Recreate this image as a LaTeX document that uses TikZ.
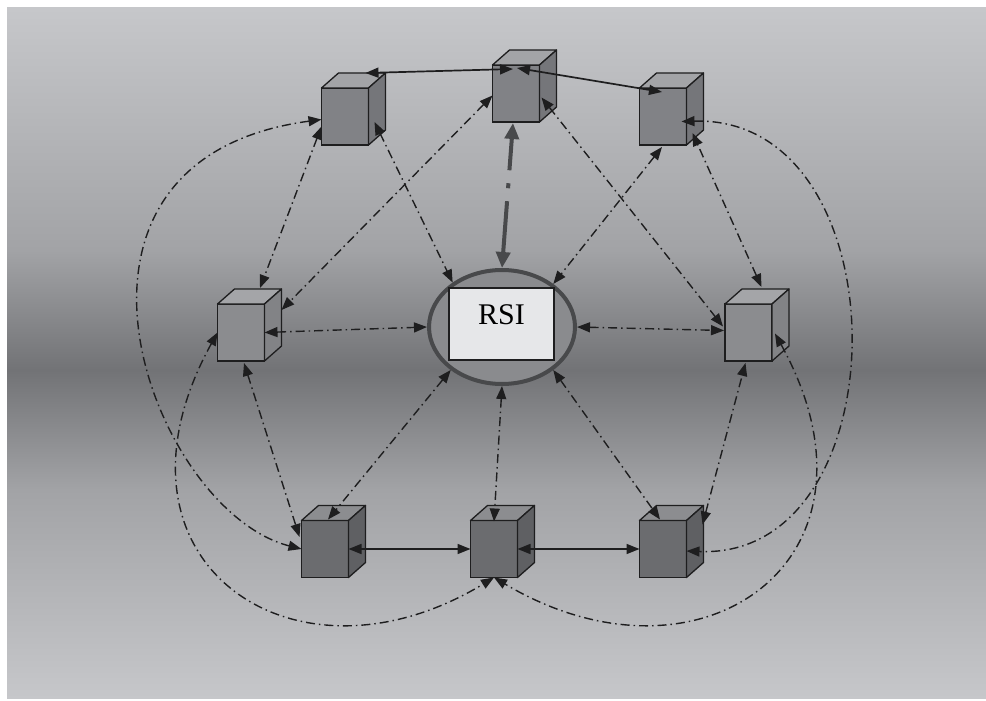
\documentclass[tikz,border=0pt]{standalone}
\usepackage{fontspec}
\setmainfont{Liberation Serif}
\usepackage{xcolor}
\usetikzlibrary{arrows.meta,shapes.geometric,calc}

\definecolor{ink}{HTML}{1E1E1F}
\definecolor{bglight}{HTML}{C6C7CA}
\definecolor{bgsoft}{HTML}{A2A3A6}
\definecolor{bgdark}{HTML}{727376}
\definecolor{hubgray}{HTML}{8A8B8E}
\definecolor{hubline}{HTML}{48494B}
\definecolor{boxfill}{HTML}{E6E7E9}
\definecolor{faceA}{HTML}{818286}
\definecolor{lidA}{HTML}{A3A4A7}
\definecolor{flankA}{HTML}{75767A}
\definecolor{faceB}{HTML}{8B8C8F}
\definecolor{lidB}{HTML}{A4A5A8}
\definecolor{flankB}{HTML}{828386}
\definecolor{faceC}{HTML}{6B6C6F}
\definecolor{lidC}{HTML}{8C8D90}
\definecolor{flankC}{HTML}{5F6063}

\begin{document}
\begin{tikzpicture}[x=1pt,y=-1pt,
  every node/.style={inner sep=0pt,outer sep=0pt},
  cube/.style={draw=ink,line width=1.3pt,minimum width=47pt,minimum height=57pt},
  hub/.style={shape=ellipse,draw=hubline,fill=hubgray,line width=4pt,outer sep=2pt,minimum width=146pt,minimum height=114pt},
  twohead/.style={{Triangle[length=13pt,width=10pt]}-{Triangle[length=13pt,width=10pt]}},
  link/.style={draw=ink,line width=1.4pt,dash pattern=on 9pt off 4pt on 1.5pt off 4pt,twohead},
  solidlink/.style={draw=ink,line width=1.7pt,twohead},
  mainlink/.style={draw=hubline,line width=4pt,dash pattern=on 52pt off 13pt on 5pt off 13pt,{Triangle[length=16pt,width=14pt]}-{Triangle[length=16pt,width=14pt]}}]
  \fill[white] (0,0) rectangle (986,698);
  \shade[top color=bglight,bottom color=bgsoft] (7,8) rectangle (986,250);
  \shade[top color=bgsoft,bottom color=bgdark] (7,250) rectangle (986,370);
  \shade[top color=bgdark,bottom color=bgsoft] (7,370) rectangle (986,490);
  \shade[top color=bgsoft,bottom color=bglight] (7,490) rectangle (986,698);

  \node[hub] (ring) at (502,327) {};
  \node[draw=ink,line width=1.2pt,fill=boxfill,minimum width=105pt,minimum height=72pt,text depth=18pt,font=\fontsize{30}{30}\selectfont] (rsi) at (501.5,324) {RSI};

  \node[cube,fill=faceA] (tl) at (345,116.5) {};
  \node[cube,fill=faceA] (tm) at (516,93.5) {};
  \node[cube,fill=faceA] (tr) at (663,116.5) {};
  \node[cube,fill=faceB] (lm) at (241,332.5) {};
  \node[cube,fill=faceB] (rm) at (748.5,332.5) {};
  \node[cube,fill=faceC] (bl) at (325,549) {};
  \node[cube,fill=faceC] (bm) at (494,549) {};
  \node[cube,fill=faceC] (br) at (663,549) {};
  \foreach \n/\fa/\fb in {tl/lidA/flankA,tm/lidA/flankA,tr/lidA/flankA,lm/lidB/flankB,rm/lidB/flankB,bl/lidC/flankC,bm/lidC/flankC,br/lidC/flankC}{
    \filldraw[fill=\fa,draw=ink,line width=1.3pt,line join=round] (\n.north west) -- ++(17,-15) -- ($(\n.north east)+(17,-15)$) -- (\n.north east) -- cycle;
    \filldraw[fill=\fb,draw=ink,line width=1.3pt,line join=round] (\n.north east) -- ++(17,-15) -- ++(0,57) -- (\n.south east) -- cycle;
  }

  \draw[solidlink] ($(tm.north)+(-3,4)$) -- ($(tl.north east)+(-3,-15)$);
  \draw[solidlink] ($(tm.north)+(1,3)$) -- ($(tr.north)+(-1,4)$);
  \draw[solidlink] (bl.east) -- (bm.west);
  \draw[solidlink] (bm.east) -- (br.west);
  \draw[mainlink] (ring.north) -- ($(tm.south)+(-3,1)$);

  \draw[link] ($(tl.south east)+(6,-23)$) -- (ring.138);
  \draw[link] ($(tr.south)+(-1,2)$) -- (ring.40);
  \draw[link] (lm.east) -- (ring.west);
  \draw[link] (ring.east) -- ($(rm.west)+(-1,-2)$);
  \draw[link] (ring.220) -- ($(bl.north)+(3,-1)$);
  \draw[link] (ring.south) -- ($(bm.north)+(0,1)$);
  \draw[link] (ring.-40) -- ($(br.north)+(-3,-1)$);

  \draw[link] ($(tl.west)+(0,10)$) -- ($(lm.north)+(19,-16)$);
  \draw[link] ($(lm.south)+(3,2)$) -- ($(bl.west)+(-2,-12)$);
  \draw[link] ($(br.north east)+(16,4)$) -- ($(rm.south)+(-3,2)$);
  \draw[link] ($(rm.north)+(13,-17)$) -- ($(tr.south east)+(6,-12)$);
  \draw[link] ($(tm.west)+(0,2)$) -- ($(lm.north east)+(17,6)$);
  \draw[link] ($(tm.east)+(2,4)$) -- ($(rm.west)+(-2,-6)$);

  \draw[link] ($(tl.west)+(0,3)$) .. controls (20,160) and (152,511) .. (bl.west);
  \draw[link] (lm.west) .. controls (92,560) and (292,700) .. (bm.south);
  \draw[link] ($(tr.east)+(-5,5)$) .. controls (904,115) and (904,560) .. ($(br.east)+(0,2)$);
  \draw[link] ($(rm.east)+(3,1)$) .. controls (900,560) and (700,700) .. (bm.south);
\end{tikzpicture}
\end{document}
